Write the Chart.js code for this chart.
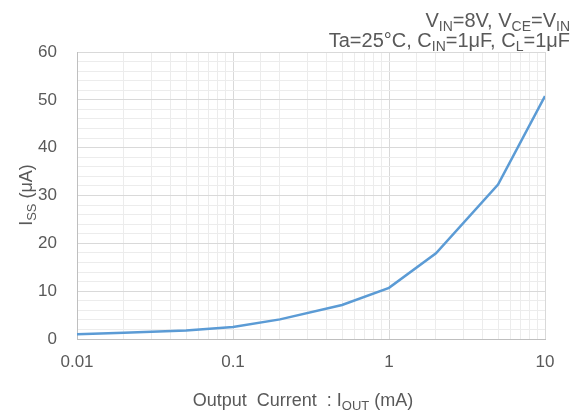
<!DOCTYPE html>
<html>
<head>
<meta charset="utf-8">
<script src="https://cdn.jsdelivr.net/npm/chart.js@4.4.0/dist/chart.umd.min.js"></script>
<style>
  body { margin: 0; background: #fff; }
</style>
</head>
<body>
<canvas id="issChart" width="587" height="417"></canvas>
<script>
// data
const CURRENT = [0.01, 0.02, 0.05, 0.1, 0.2, 0.5, 1, 2, 5, 10];
const ISS = [1.0, 1.3, 1.8, 2.5, 4.1, 7.1, 10.7, 17.9, 32.3, 50.8];
const X_LABELS = [0.01, 0.1, 1, 10];
const Y_LABELS = [0, 10, 20, 30, 40, 50, 60];

const FONT = '"Liberation Sans", Arial, sans-serif';
const TEXT_COLOR = '#595959';

function isMajorLog(v) {
    let l = Math.log10(v);
    return Math.abs(l - Math.round(l)) < 1e-6;
}

// text with subscripts : parts = [[text, isSub], ...]
function drawRich(ctx, parts, x, y, size, align) {
    const subSize = Math.round(size * 0.7);
    let total = 0;
    let widths = [];
    for (let p of parts) {
        ctx.font = (p[1] ? subSize : size) + 'px ' + FONT;
        let w = ctx.measureText(p[0]).width;
        widths.push(w);
        total += w;
    }
    let cx = x;
    if (align == 'right') cx = x - total;
    if (align == 'center') cx = x - total / 2;
    ctx.textAlign = 'left';
    ctx.textBaseline = 'alphabetic';
    ctx.fillStyle = TEXT_COLOR;
    for (let i = 0; i < parts.length; i++) {
        ctx.font = (parts[i][1] ? subSize : size) + 'px ' + FONT;
        ctx.fillText(parts[i][0], cx, y + (parts[i][1] ? size * 0.2 : 0));
        cx += widths[i];
    }
}

const textPlugin = {
    id: 'texts',
    afterDraw(chart) {
        const ctx = chart.ctx;
        ctx.save();
        drawRich(ctx, [['V', 0], ['IN', 1], ['=8V, V', 0], ['CE', 1], ['=V', 0], ['IN', 1]], 570, 27, 20, 'right');
        drawRich(ctx, [['Ta=25\u00b0C, C', 0], ['IN', 1], ['=1\u03bcF, C', 0], ['L', 1], ['=1\u03bcF', 0]], 570, 47, 20, 'right');
        drawRich(ctx, [['Output  Current  : I', 0], ['OUT', 1], [' (mA)', 0]], 303, 406, 18, 'center');
        ctx.translate(32, 195);
        ctx.rotate(-Math.PI / 2);
        drawRich(ctx, [['I', 0], ['SS', 1], [' (\u03bcA)', 0]], 0, 0, 18, 'center');
        ctx.restore();
    }
};

const config = {
    type: 'line',
    data: {
        datasets: [{
            data: CURRENT.map((c, i) => ({ x: c, y: ISS[i] })),
            borderColor: '#5b9bd5',
            borderWidth: 2.5,
            pointRadius: 0,
            tension: 0,
            fill: false
        }]
    },
    options: {
        responsive: false,
        animation: false,
        layout: { padding: { top: 52, right: 42, left: 0, bottom: 0 } },
        plugins: {
            legend: { display: false },
            tooltip: { enabled: false }
        },
        scales: {
            x: {
                type: 'logarithmic',
                min: 0.01,
                max: 10,
                afterFit: (scale) => { scale.height = 78; },
                grid: {
                    color: (c) => isMajorLog(c.tick.value) ? '#d9d9d9' : '#ececec',
                    lineWidth: 1,
                    drawTicks: false
                },
                border: { color: '#bfbfbf', width: 1 },
                ticks: {
                    autoSkip: false,
                    maxRotation: 0,
                    padding: 13,
                    color: TEXT_COLOR,
                    font: { family: FONT, size: 17 },
                    callback: (v) => X_LABELS.some(l => Math.abs(l - v) / l < 1e-6) ? String(v) : ''
                }
            },
            y: {
                min: 0,
                max: 60,
                afterFit: (scale) => { scale.width = 77; },
                grid: {
                    color: (c) => c.tick.value % 10 == 0 ? '#d9d9d9' : '#ececec',
                    lineWidth: 1,
                    drawTicks: false
                },
                border: { color: '#bfbfbf', width: 1 },
                ticks: {
                    stepSize: 2,
                    autoSkip: false,
                    padding: 20,
                    color: TEXT_COLOR,
                    font: { family: FONT, size: 17 },
                    callback: (v) => Y_LABELS.includes(v) ? String(v) : ''
                }
            }
        }
    },
    plugins: [textPlugin]
};

const chart = new Chart('issChart', config);
</script>
</body>
</html>
